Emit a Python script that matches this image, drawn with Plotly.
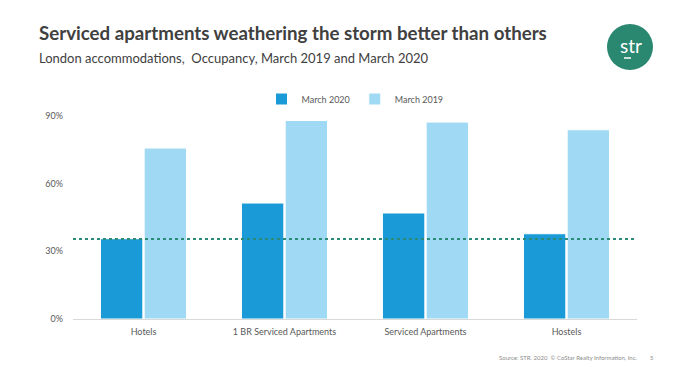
import plotly.graph_objects as go

categories = ["Hotels", "1 BR Serviced Apartments", "Serviced Apartments", "Hostels"]
march_2020 = [35.6, 51.4, 47.0, 37.8]
march_2019 = [75.8, 88.0, 87.3, 83.9]
reference_level = 35.5
y_ticks = [0, 30, 60, 90]
y_tick_labels = ["0%", "30%", "60%", "90%"]

FONT = "Lato"
W, H = 700, 381
pl, pr, pt, pb = 73, 63, 116, 62
pw, ph = W - pl - pr, H - pt - pb
def px(x): return (x - pl) / pw
def py(y): return (H - pb - y) / ph

fig = go.Figure()
fig.add_trace(go.Bar(name="March 2020", x=categories, y=march_2020,
                     marker=dict(color="#1a9bd7", line=dict(color="white", width=1))))
fig.add_trace(go.Bar(name="March 2019", x=categories, y=march_2019,
                     marker=dict(color="#9fd9f4", line=dict(color="white", width=1))))

fig.add_shape(type="line", xref="paper", yref="y", x0=0, x1=0.995,
              y0=reference_level, y1=reference_level,
              line=dict(color="#2a8c78", width=2, dash="dot"))

fig.update_layout(
    width=W, height=H,
    paper_bgcolor="white", plot_bgcolor="white",
    margin=dict(l=pl, r=pr, t=pt, b=pb, autoexpand=False),
    barmode="group", bargap=0.38, bargroupgap=0.03,
    font=dict(family=FONT, color="#595959", size=9),
    showlegend=True,
    legend=dict(orientation="h", x=0.5, xanchor="center", y=py(99), yanchor="middle",
                font=dict(size=9, color="#595959"), traceorder="normal",
                itemwidth=30, tracegroupgap=0),
    xaxis=dict(showline=True, linecolor="#d9d9d9", linewidth=1, showgrid=False,
               tickfont=dict(size=9, color="#595959"), ticks="", ticklabelstandoff=4),
    yaxis=dict(range=[0, 90], tickvals=y_ticks, ticktext=y_tick_labels,
               showgrid=False, zeroline=False, showline=False,
               tickfont=dict(size=9, color="#595959"), ticklabelstandoff=9),
    annotations=[
        dict(text="<b>Serviced apartments weathering the storm better than others</b>",
             xref="paper", yref="paper", x=px(37), y=py(33), xanchor="left", yanchor="middle",
             showarrow=False, font=dict(family=FONT, size=18.7, color="#404040")),
        dict(text="London accommodations,  Occupancy, March 2019 and March 2020",
             xref="paper", yref="paper", x=px(37), y=py(58), xanchor="left", yanchor="middle",
             showarrow=False, font=dict(family=FONT, size=13, color="#404040")),
        dict(text="Source: STR. 2020  © CoStar Realty Information, Inc.",
             xref="paper", yref="paper", x=px(640), y=py(357), xanchor="right", yanchor="middle",
             showarrow=False, font=dict(family=FONT, size=6, color="#8c8c8c")),
        dict(text="5", xref="paper", yref="paper", x=px(652), y=py(357), xanchor="center",
             yanchor="middle", showarrow=False, font=dict(family=FONT, size=6, color="#8c8c8c")),
    ],
)

# logo
fig.add_shape(type="circle", xref="paper", yref="paper",
              x0=px(607), x1=px(653), y0=py(24), y1=py(70),
              fillcolor="#2a8770", line=dict(width=0))
fig.add_annotation(text="str", xref="paper", yref="paper", x=px(631), y=py(45),
                   xanchor="center", yanchor="middle", showarrow=False,
                   font=dict(family=FONT, size=19, color="white"))
fig.add_shape(type="line", xref="paper", yref="paper",
              x0=px(624), x1=px(631), y0=py(58), y1=py(58),
              line=dict(color="white", width=1.5))

fig.write_html("out.html", config={"displayModeBar": False},
               post_script="document.body.style.margin='0';")
